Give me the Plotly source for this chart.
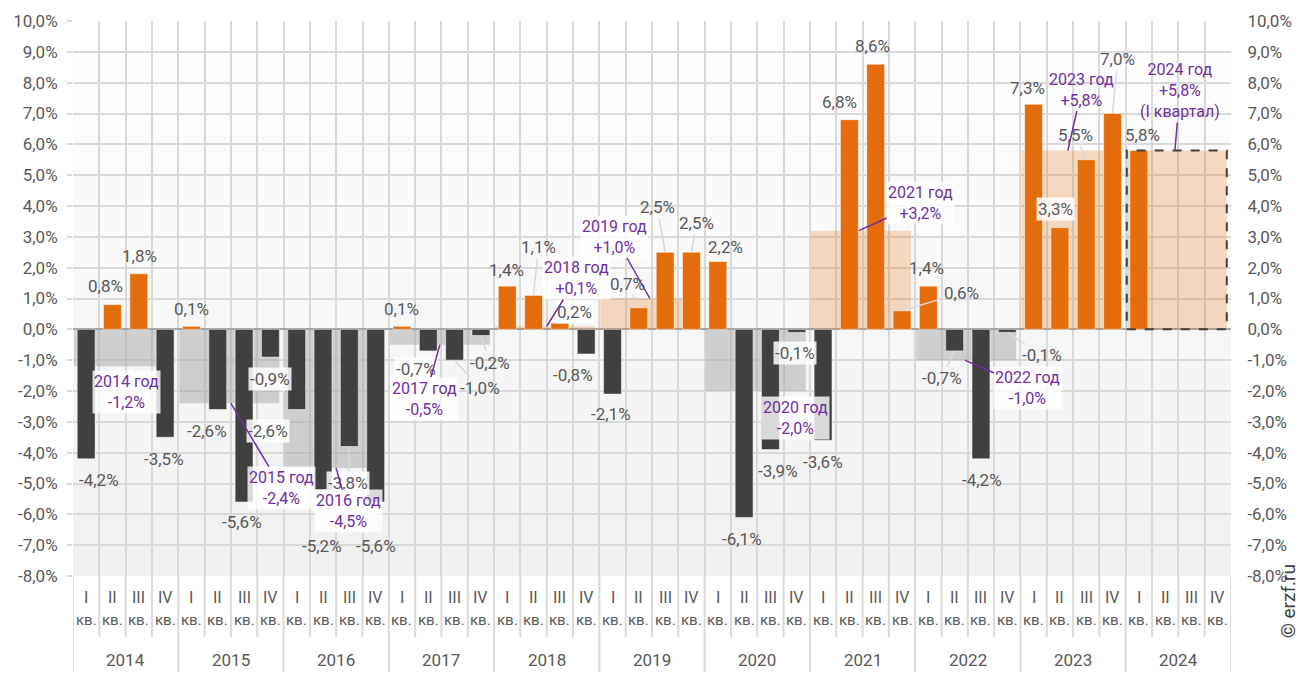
import plotly.graph_objects as go

# ---------------- data ----------------
years = [2014, 2015, 2016, 2017, 2018, 2019, 2020, 2021, 2022, 2023, 2024]
quarter_names = ["I", "II", "III", "IV"]
quarter_suffix = "кв."
q_values = [
    -4.2, 0.8, 1.8, -3.5,
    0.1, -2.6, -5.6, -0.9,
    -2.6, -5.2, -3.8, -5.6,
    0.1, -0.7, -1.0, -0.2,
    1.4, 1.1, 0.2, -0.8,
    -2.1, 0.7, 2.5, 2.5,
    2.2, -6.1, -3.9, -0.1,
    -3.6, 6.8, 8.6, 0.6,
    1.4, -0.7, -4.2, -0.1,
    7.3, 3.3, 5.5, 7.0,
    5.8, None, None, None,
]
year_values = [-1.2, -2.4, -4.5, -0.5, 0.1, 1.0, -2.0, 3.2, -1.0, 5.8, 5.8]
year_word = "год"
year_notes = {2024: "(I квартал)"}
y_ticks = list(range(-8, 11))
copyright_text = "© erzf.ru"

# ---------------- styles ----------------
ORANGE = "#E46C0A"
DARK = "#404040"
PEACH = "rgba(228,108,10,0.24)"
LGRAY = "rgba(160,160,160,0.45)"
GRID = "#d9d9d9"
TXT = "#595959"
PURPLE = "#7030A0"
FONT = "Roboto"


def fmt(v, sign=False):
    s = f"{v:+.1f}" if sign else f"{v:.1f}"
    return s.replace(".", ",") + "%"


# label placement: index -> (dx, dy, leader, box)   (pixel offsets)
label_pos = {
    0: (13, 21, False, False), 1: (-7, -19, False, False), 2: (1, -18, False, False),
    3: (-1, 22, False, False), 4: (0, -17, False, False), 5: (-11, 21, False, False),
    6: (-2, 20, False, False), 7: (0, 22, False, True), 8: (-29, 21, False, True),
    9: (-1, 56, False, False), 10: (-1, 36, True, True), 11: (0, 44, False, False),
    12: (0, -17, False, False), 13: (-12, 18, False, True), 14: (25, 28, True, False),
    15: (9, 27, True, False), 16: (-1, -16, False, False), 17: (5, -48, True, False),
    18: (15, -11, False, True), 19: (-13, 21, False, False), 20: (-2, 20, False, False),
    21: (-11, -24, True, False), 22: (-8, -45, True, False), 23: (5, -29, True, False),
    24: (8, -15, False, False), 25: (-2, 22, False, False), 26: (8, 21, False, False),
    27: (-2, 21, False, True), 28: (0, 22, False, False), 29: (-10, -18, False, False),
    30: (-3, -18, False, False), 31: (59, -18, True, False), 32: (-2, -18, False, False),
    33: (-13, 27, True, False), 34: (1, 21, False, False), 35: (35, 23, True, False),
    36: (-6, -16, False, False), 37: (-4, -19, False, True), 38: (-11, -25, True, False),
    39: (5, -55, True, False), 40: (4, -16, False, False),
}
# year label placement: year index -> (anchor position in quarters from year start, dx, dy, leader, box)
year_label_pos = {
    0: (1.5, 1, 26, False, True), 1: (1.5, 51, 85, True, True), 2: (1.5, 12, 43, True, True),
    3: (1.44, -15, 54, True, True), 4: (1.5, 30, -48, True, True), 5: (1.42, -35, -62, True, True),
    6: (1.5, 38, 27, False, True), 7: (1.36, 62, -28, True, True), 8: (1.39, 63, 28, True, True),
    9: (1.3, 14, -61, True, False), 10: (1.37, 5, -60, True, False),
}

n_q = len(q_values)
xq = list(range(n_q))
year_x = [4 * k + 1.5 - 0.06 for k in range(len(years))]

fig = go.Figure()

# annual background bars
fig.add_trace(go.Bar(
    x=year_x, y=year_values, width=3.8,
    marker=dict(color=[PEACH if v > 0 else LGRAY for v in year_values], line_width=0),
    hoverinfo="skip",
))
# quarterly bars
fig.add_trace(go.Bar(
    x=xq, y=q_values, width=0.68,
    marker=dict(color=[ORANGE if (v is not None and v > 0) else DARK for v in q_values],
                line=dict(color="rgba(255,255,255,0.5)", width=1)),
    hoverinfo="skip",
))
# invisible trace for right axis
fig.add_trace(go.Scatter(x=[0], y=[0], yaxis="y2", mode="markers",
                         marker=dict(opacity=0), hoverinfo="skip", showlegend=False))

annotations = []
# quarterly value labels
for i, v in enumerate(q_values):
    if v is None:
        continue
    dx, dy, leader, box = label_pos[i]
    annotations.append(dict(
        x=i, y=v, xref="x", yref="y", text=fmt(v), showarrow=True,
        ax=dx, ay=dy, arrowhead=0, arrowwidth=1.5, standoff=0, startstandoff=0,
        arrowcolor=GRID if leader else "rgba(0,0,0,0)",
        font=dict(family=FONT, size=17, color=TXT),
        bgcolor="rgba(255,255,255,0.85)" if box else None, borderpad=1,
    ))
# annual labels
for k, (yr, v) in enumerate(zip(years, year_values)):
    off, dx, dy, leader, box = year_label_pos[k]
    txt = f"{yr} {year_word}<br>{fmt(v, sign=v > 0)}"
    if yr in year_notes:
        txt += "<br>" + year_notes[yr]
    annotations.append(dict(
        x=4 * k + off, y=v, xref="x", yref="y", text=txt, showarrow=True,
        ax=dx, ay=dy, arrowhead=0, arrowwidth=1.5, standoff=0, startstandoff=0,
        arrowcolor=PURPLE if leader else "rgba(0,0,0,0)",
        font=dict(family=FONT, size=16, color=PURPLE),
        bgcolor="rgba(255,255,255,0.8)" if box else None, borderpad=1,
    ))
# category labels
for i in range(n_q):
    annotations.append(dict(x=i, y=-0.038, xref="x", yref="paper", text=quarter_names[i % 4],
                            showarrow=False, yanchor="middle",
                            font=dict(family=FONT, size=16, color=TXT)))
    annotations.append(dict(x=i, y=-0.080, xref="x", yref="paper", text=quarter_suffix,
                            showarrow=False, yanchor="middle",
                            font=dict(family=FONT, size=15, color=TXT)))
for k, yr in enumerate(years):
    annotations.append(dict(x=4 * k + 1.5, y=-0.152, xref="x", yref="paper", text=str(yr),
                            showarrow=False, yanchor="middle",
                            font=dict(family=FONT, size=17, color=TXT)))
annotations.append(dict(x=1.062, y=-0.115, xref="paper", yref="paper", text=copyright_text,
                        showarrow=False, textangle=-90,
                        font=dict(family=FONT, size=19, color=DARK)))

shapes = []
# gradient background
lo, hi = y_ticks[0], y_ticks[-1]
for v in range(lo, hi):
    t = (hi - (v + 0.5)) / (hi - lo)
    c = int(round(255 - 15 * t))
    shapes.append(dict(type="rect", xref="paper", yref="y", x0=0, x1=1, y0=v, y1=v + 1,
                       fillcolor=f"rgb({c},{c},{c})", line_width=0, layer="below"))
# separators under the axis
for b in range(n_q + 1):
    is_year = b % 4 == 0
    shapes.append(dict(type="line", xref="x", yref="paper", x0=b - 0.5, x1=b - 0.5,
                       y0=0, y1=-0.173 if is_year else -0.11,
                       line=dict(color=GRID, width=2)))
# dashed box for incomplete year
k_last = len(years) - 1
shapes.append(dict(type="rect", xref="x", yref="y",
                   x0=year_x[k_last] - 1.9, x1=year_x[k_last] + 1.9, y0=0, y1=year_values[k_last],
                   line=dict(color=DARK, width=2, dash="dash"), layer="above"))

ticktext = [fmt(v) for v in y_ticks]
fig.update_layout(
    width=1314, height=682,
    margin=dict(l=73, r=83, t=21, b=106, autoexpand=False),
    paper_bgcolor="white", plot_bgcolor="white",
    barmode="overlay", showlegend=False,
    font=dict(family=FONT, color=TXT),
    xaxis=dict(range=[-0.5, n_q - 0.5], tickvals=[b - 0.5 for b in range(n_q + 1)],
               showticklabels=False, showgrid=True, gridcolor=GRID, gridwidth=2,
               zeroline=False, ticks="", fixedrange=True, automargin=False),
    yaxis=dict(range=[lo, hi], tickvals=y_ticks, ticktext=ticktext,
               showgrid=True, gridcolor=GRID, gridwidth=2,
               zeroline=True, zerolinecolor="#a6a6a6", zerolinewidth=1.5,
               ticks="outside", ticklen=5, tickwidth=2, tickcolor=GRID,
               ticklabelstandoff=6, automargin=False,
               tickfont=dict(family=FONT, size=17, color=TXT)),
    yaxis2=dict(range=[lo, hi], overlaying="y", side="right", tickvals=y_ticks, ticktext=ticktext,
                showgrid=False, zeroline=False, ticks="outside", ticklen=2, tickcolor="rgba(0,0,0,0)",
                ticklabelstandoff=10, automargin=False,
                tickfont=dict(family=FONT, size=17, color=TXT)),
    annotations=annotations,
    shapes=shapes,
)

fig.write_html("out.html", config={"displayModeBar": False},
               post_script="document.body.style.margin='0';document.body.style.overflow='hidden';")
